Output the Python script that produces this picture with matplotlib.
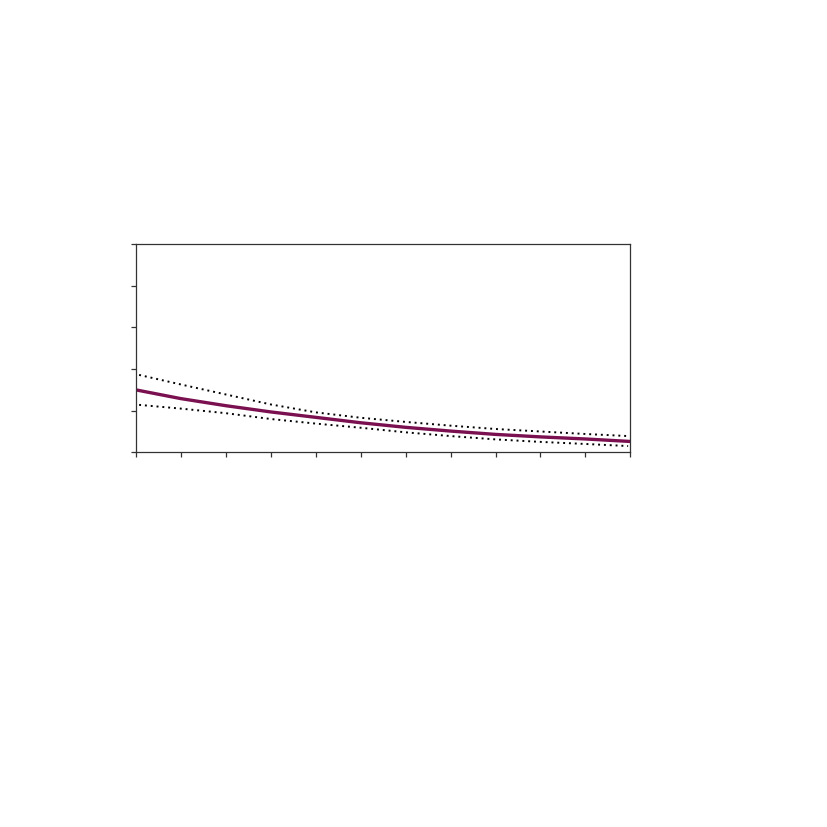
import matplotlib
matplotlib.use("Agg")
import matplotlib.pyplot as plt

x_mid = [0, 1, 2, 3, 4, 5, 6, 7, 8, 9, 10, 11]
y_mid = [1.50, 1.29, 1.12, 0.97, 0.84, 0.71, 0.60, 0.51, 0.43, 0.37, 0.32, 0.26]

x_band = [0.07, 1, 2, 3, 4, 5, 6, 7, 8, 9, 10, 10.95]
y_upper = [1.86, 1.63, 1.39, 1.15, 0.96, 0.83, 0.73, 0.64, 0.56, 0.50, 0.44, 0.39]
y_lower = [1.14, 1.05, 0.94, 0.80, 0.69, 0.59, 0.48, 0.39, 0.31, 0.25, 0.20, 0.15]

x_ticks = list(range(0, 12))
y_ticks = [0, 1, 2, 3, 4, 5]

fig = plt.figure(figsize=(8.27, 8.27), dpi=100)
ax = fig.add_axes([0.1644, 0.4531, 0.5978, 0.2515])

ax.plot(x_mid, y_mid, color="#7a1050", lw=2.4, solid_capstyle="butt")
ax.plot(x_band, y_upper, color="black", lw=1.4, linestyle=(0, (1, 2)))
ax.plot(x_band, y_lower, color="black", lw=1.4, linestyle=(0, (1, 2)))

ax.set_xlim(0, 11)
ax.set_ylim(0, 5)
ax.set_xticks(x_ticks)
ax.set_yticks(y_ticks)
ax.set_xticklabels([])
ax.set_yticklabels([])
ax.tick_params(direction="out", length=3.5, width=0.9, color="#333333")
for s in ax.spines.values():
    s.set_color("#333333")
    s.set_linewidth(0.9)

fig.savefig("out.png", dpi=100)
